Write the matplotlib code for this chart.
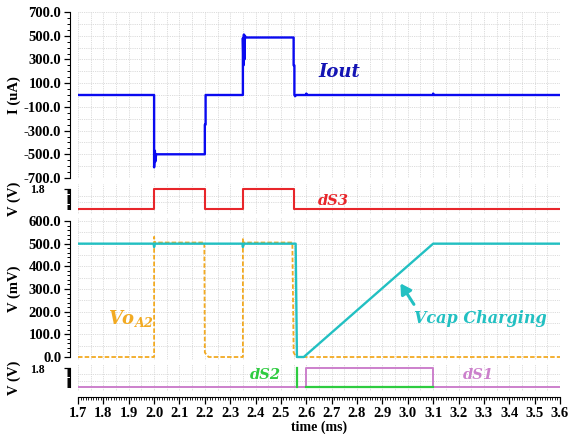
import matplotlib.pyplot as plt
import numpy as np
from matplotlib.ticker import FixedLocator, FormatStrFormatter

# ---- data ----
# output current Iout (uA)
iout_t = [1.70, 2.000, 2.000, 2.003, 2.005, 2.008, 2.200, 2.200, 2.203, 2.203,
          2.350, 2.350, 2.352, 2.354, 2.356, 2.358, 2.360, 2.550, 2.550, 2.553,
          2.553, 2.556, 2.560, 2.600, 2.600, 2.601, 3.100, 3.100, 3.101, 3.60]
iout = [0, 0, -610, -470, -560, -500, -500, -250, -250, 0,
        0, 480, 250, 510, 300, 500, 485, 485, 250, 250,
        0, -10, 0, 0, 12, 0, 0, 12, 0, 0]

# switch dS3 (V)
ds3_t = [1.7, 2.0, 2.0, 2.2, 2.2, 2.35, 2.35, 2.55, 2.55, 3.6]
ds3 = [0, 0, 1.8, 1.8, 0, 0, 1.8, 1.8, 0, 0]

# capacitor voltage Vcap (mV)
vcap_t = [1.7, 1.998, 2.0, 2.003, 2.348, 2.35, 2.353, 2.558, 2.563, 2.590, 3.1, 3.6]
vcap = [500, 500, 485, 500, 500, 485, 500, 500, 0, 0, 500, 500]

# amplifier output Vo_A2 (mV)
voa2_t = [1.7, 2.0, 2.0, 2.003, 2.006, 2.198, 2.2, 2.205, 2.215, 2.35, 2.35,
          2.352, 2.356, 2.545, 2.550, 2.560, 3.6]
voa2 = [0, 0, 530, 500, 505, 505, 20, 12, 0, 0, 520,
        490, 505, 505, 20, 0, 0]

# switches dS1 / dS2 (V)
ds1_t = [1.7, 2.6, 2.6, 3.1, 3.1, 3.6]
ds1 = [0, 0, 1.8, 1.8, 0, 0]
ds2_t = [2.562, 2.562, np.nan, 2.6, 3.1]
ds2 = [0, 1.8, np.nan, 0, 0]

xticks = np.round(np.arange(1.7, 3.61, 0.1), 2)

# ---- figure ----
W, H = 581, 434
fig = plt.figure(figsize=(W / 100, H / 100), dpi=100)

def px_axes(top, bottom):
    return fig.add_axes([78 / W, 1 - bottom / H, (560 - 78) / W, (bottom - top) / H])

ax1 = px_axes(12, 178)
ax2 = px_axes(184, 214)
ax3 = px_axes(218, 360)
ax4 = px_axes(364, 391)

grid_kw = dict(color='#d0d0d0', lw=0.6, ls=(0, (1, 1.2)), zorder=0)
lab_kw = dict(family='Liberation Serif', weight='bold')
note_kw = dict(family='DejaVu Serif', style='italic', weight='bold',
               ha='center', va='center')

def style(ax, ylim, bounds, major, minor, hgrid, label, size=10.5, pad=2):
    ax.set_xlim(1.7, 3.6)
    ax.set_ylim(*ylim)
    for s in ['top', 'right', 'bottom']:
        ax.spines[s].set_visible(False)
    ax.spines['left'].set_position(('outward', 6))
    ax.spines['left'].set_bounds(*bounds)
    ax.yaxis.set_major_locator(FixedLocator(major))
    ax.yaxis.set_minor_locator(FixedLocator(minor))
    ax.yaxis.set_major_formatter(FormatStrFormatter('%.1f'))
    ax.tick_params(axis='y', which='major', length=4, width=0.9, pad=pad)
    ax.tick_params(axis='y', which='minor', length=2.5, width=0.7)
    ax.tick_params(axis='x', which='both', bottom=False, labelbottom=False)
    for lb in ax.get_yticklabels():
        lb.set_family('Liberation Serif')
        lb.set_weight('bold')
        lb.set_size(size)
    for x in np.arange(1.70, 3.601, 0.05):
        ax.axvline(x, **grid_kw)
    for y in hgrid:
        ax.axhline(y, **grid_kw)
    ax.set_ylabel(label, size=10.5, **lab_kw)
    ax.yaxis.set_label_coords(-0.118, 0.5)

# top: Iout
style(ax1, (-700, 700), (-700, 700), np.arange(-700, 701, 200), np.arange(-700, 701, 50),
      np.arange(-600, 701, 100), 'I (uA)')
ax1.plot(iout_t, iout, color='#0a0af0', lw=1.7, zorder=3)
ax1.text(2.73, 190, 'Iout', fontsize=13, color='#1414b4', **note_kw)

# dS3
style(ax2, (-0.45, 2.25), (0, 1.8), [1.8], np.arange(0, 1.81, 0.1), [0.6, 1.2],
      'V (V)', size=8.5, pad=14)
ax2.plot(ds3_t, ds3, color='#e8262b', lw=1.5, zorder=3)
ax2.text(2.705, 0.75, 'dS3', fontsize=10.5, color='#e8262b', **note_kw)

# Vcap / Vo_A2
style(ax3, (-13.2, 613.2), (0, 600), np.arange(0, 601, 100), np.arange(0, 601, 20),
      np.arange(50, 601, 50), 'V (mV)')
ax3.plot(voa2_t, voa2, color='#f2aa22', lw=1.3, ls=(0, (2.5, 1.2)), zorder=3)
ax3.plot(vcap_t, vcap, color='#22c0c2', lw=1.7, zorder=4)
ax3.text(1.91, 172, r'$\mathbfit{Vo}_{\mathbfit{A2}}$', fontsize=13, color='#f2aa22',
         ha='center', va='center', math_fontfamily='dejavuserif')
ax3.text(3.285, 172, 'Vcap Charging', fontsize=11.5, color='#22c0c2', **note_kw)
ax3.annotate('', xy=(2.965, 335), xytext=(3.03, 222),
             arrowprops=dict(arrowstyle='-|>,head_width=0.35,head_length=0.6',
                             color='#22c0c2', lw=2.2))

# dS1 / dS2
style(ax4, (-0.379, 2.179), (0, 1.8), [1.8], np.arange(0, 1.81, 0.1), [0.6, 1.2],
      'V (V)', size=8.5, pad=14)
ax4.plot(ds1_t, ds1, color='#cc80cc', lw=1.4, zorder=3)
ax4.plot(ds2_t, ds2, color='#2ecc40', lw=1.6, zorder=4)
ax4.text(2.44, 1.1, 'dS2', fontsize=10.5, color='#2ecc40', **note_kw)
ax4.text(3.277, 1.1, 'dS1', fontsize=10.5, color='#cc80cc', **note_kw)

# bottom time axis
ax4.spines['bottom'].set_visible(True)
ax4.spines['bottom'].set_position(('outward', 4.3))
ax4.spines['bottom'].set_bounds(1.7, 3.6)
ax4.set_xticks(xticks)
ax4.set_xticks(np.arange(1.7, 3.601, 0.01), minor=True)
ax4.set_xticklabels(['%.1f' % x for x in xticks])
ax4.tick_params(axis='x', which='major', bottom=True, labelbottom=True,
                length=5, width=0.9, pad=2)
ax4.tick_params(axis='x', which='minor', bottom=True, length=2.5, width=0.6)
for lb in ax4.get_xticklabels():
    lb.set_family('Liberation Serif')
    lb.set_weight('bold')
    lb.set_size(10.5)
fig.text(319 / W, 1 - 427.5 / H, 'time (ms)', size=10, ha='center', va='center',
         **lab_kw)

fig.savefig('out.png', dpi=100)
